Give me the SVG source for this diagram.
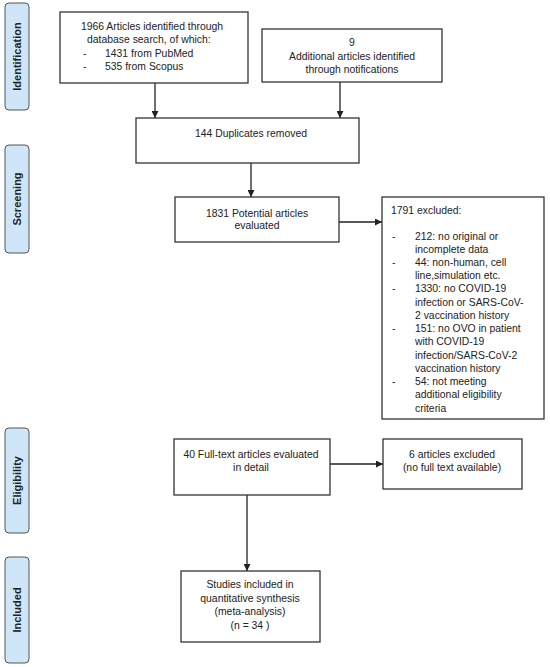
<svg xmlns="http://www.w3.org/2000/svg" width="550" height="667" viewBox="0 0 550 667">
<defs>
<style>
.box{fill:#fff;stroke:#333;stroke-width:1.3}
.ph{fill:#cfe6f8;stroke:#555;stroke-width:1}
.pt{font-family:"Liberation Sans",Arial,sans-serif;font-size:11px;font-weight:bold;fill:#222;text-anchor:middle}
.t{font-family:"Liberation Sans",Arial,sans-serif;font-size:10.4px;fill:#222}
.c{text-anchor:middle}
.ln{stroke:#222;stroke-width:1.3;fill:none}
</style>
<marker id="ah" viewBox="0 0 10 10" refX="10" refY="5" markerWidth="7" markerHeight="7" markerUnits="userSpaceOnUse" orient="auto">
<path d="M0,0 L10,5 L0,10 z" fill="#222"/>
</marker>
</defs>
<rect width="550" height="667" fill="#fff"/>

<g id="phase-identification">
<rect class="ph" x="5" y="3" width="24" height="107" rx="4"/>
<text class="pt" transform="translate(21,56.5) rotate(-90)">Identification</text>
</g>
<g id="phase-screening">
<rect class="ph" x="5" y="145" width="24" height="108" rx="4"/>
<text class="pt" transform="translate(21,199) rotate(-90)">Screening</text>
</g>
<g id="phase-eligibility">
<rect class="ph" x="5" y="428" width="24" height="105" rx="4"/>
<text class="pt" transform="translate(21,480.5) rotate(-90)">Eligibility</text>
</g>
<g id="phase-included">
<rect class="ph" x="5" y="557" width="24" height="106" rx="4"/>
<text class="pt" transform="translate(21,610) rotate(-90)">Included</text>
</g>

<g id="connectors">
<line class="ln" x1="155" y1="83" x2="155" y2="118" marker-end="url(#ah)"/>
<line class="ln" x1="340" y1="82" x2="340" y2="118" marker-end="url(#ah)"/>
<line class="ln" x1="251" y1="163" x2="251" y2="197" marker-end="url(#ah)"/>
<line class="ln" x1="339" y1="222" x2="382" y2="222" marker-end="url(#ah)"/>
<line class="ln" x1="330" y1="464" x2="383" y2="464" marker-end="url(#ah)"/>
<line class="ln" x1="247" y1="495" x2="247" y2="571" marker-end="url(#ah)"/>
</g>

<g id="n-database">
<rect class="box" x="60" y="12" width="188" height="71"/>
<text class="t c" x="152" y="29.5">1966 Articles identified through</text>
<text class="t" x="87" y="42.5">database search, of which:</text>
<text class="t" x="83" y="56.5">-</text>
<text class="t" x="105" y="56.5">1431 from PubMed</text>
<text class="t" x="83" y="69.5">-</text>
<text class="t" x="105" y="69.5">535 from Scopus</text>
</g>

<g id="n-additional">
<rect class="box" x="262" y="29" width="180" height="53"/>
<text class="t c" x="352" y="45.5">9</text>
<text class="t c" x="352" y="59.5">Additional articles identified</text>
<text class="t c" x="352" y="72.5">through notifications</text>
</g>

<g id="n-duplicates">
<rect class="box" x="136" y="118" width="223" height="45"/>
<text class="t c" x="251" y="136.5">144 Duplicates removed</text>
</g>

<g id="n-potential">
<rect class="box" x="175" y="197" width="164" height="45"/>
<text class="t c" x="257" y="216.5">1831 Potential articles</text>
<text class="t c" x="257" y="228.5">evaluated</text>
</g>

<g id="n-excluded">
<rect class="box" x="382" y="197" width="162" height="222"/>
<text class="t" x="391" y="213.5">1791 excluded:</text>
<g class="t">
<text x="392" y="239.5">-</text>
<text x="415" y="239.5">212: no original or</text>
<text x="415" y="252.7">incomplete data</text>
<text x="392" y="266">-</text>
<text x="415" y="266">44: non-human, cell</text>
<text x="415" y="279.2">line,simulation etc.</text>
<text x="392" y="292.4">-</text>
<text x="415" y="292.4">1330: no COVID-19</text>
<text x="415" y="305.7">infection or SARS-CoV-</text>
<text x="415" y="318.9">2 vaccination history</text>
<text x="392" y="332.1">-</text>
<text x="415" y="332.1">151: no OVO in patient</text>
<text x="415" y="345.3">with COVID-19</text>
<text x="415" y="358.6">infection/SARS-CoV-2</text>
<text x="415" y="371.8">vaccination history</text>
<text x="392" y="385">-</text>
<text x="415" y="385">54: not meeting</text>
<text x="415" y="398.3">additional eligibility</text>
<text x="415" y="411.5">criteria</text>
</g>
</g>

<g id="n-fulltext">
<rect class="box" x="174" y="439" width="156" height="56"/>
<text class="t c" x="251" y="457.5">40 Full-text articles evaluated</text>
<text class="t c" x="251" y="470.5">in detail</text>
</g>

<g id="n-excluded2">
<rect class="box" x="383" y="439" width="139" height="50"/>
<text class="t c" x="452" y="457.5">6 articles excluded</text>
<text class="t c" x="452" y="470.5">(no full text available)</text>
</g>

<g id="n-included">
<rect class="box" x="181" y="571" width="139" height="71"/>
<text class="t c" x="250" y="587.5">Studies included in</text>
<text class="t c" x="250" y="601.5">quantitative synthesis</text>
<text class="t c" x="250" y="614.5">(meta-analysis)</text>
<text class="t c" x="250" y="628.5">(n = 34 )</text>
</g>
</svg>
